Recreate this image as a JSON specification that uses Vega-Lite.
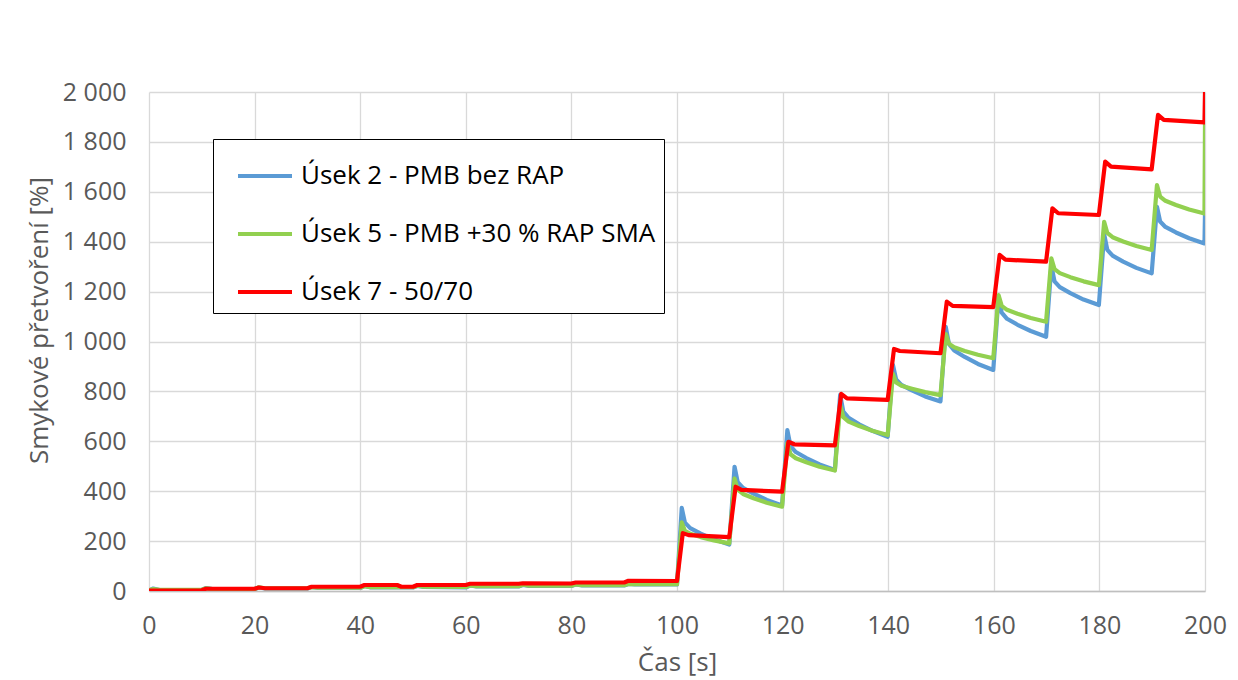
{
  "$schema": "https://vega.github.io/schema/vega-lite/v6.json",
  "autosize": {"type": "none"},
  "padding": {"left": 149, "top": 92, "right": 33, "bottom": 89},
  "width": 1056,
  "height": 499,
  "background": "white",
  "config": {
    "font": "Open Sans",
    "view": {"stroke": null},
    "axis": {
      "labelFont": "Open Sans",
      "titleFont": "Open Sans",
      "labelColor": "#595959",
      "titleColor": "#595959",
      "labelFontSize": 25,
      "titleFontSize": 26,
      "titleFontWeight": "normal",
      "gridColor": "#D9D9D9",
      "gridWidth": 1.3,
      "ticks": false,
      "labelFlush": false
    }
  },
  "data": {
    "values": [
      {"s": "Úsek 2 - PMB bez RAP", "t": 0, "v": 2},
      {"s": "Úsek 2 - PMB bez RAP", "t": 0.8, "v": 10},
      {"s": "Úsek 2 - PMB bez RAP", "t": 2, "v": 4},
      {"s": "Úsek 2 - PMB bez RAP", "t": 10, "v": 4},
      {"s": "Úsek 2 - PMB bez RAP", "t": 10.8, "v": 12},
      {"s": "Úsek 2 - PMB bez RAP", "t": 12, "v": 8},
      {"s": "Úsek 2 - PMB bez RAP", "t": 20, "v": 8},
      {"s": "Úsek 2 - PMB bez RAP", "t": 20.8, "v": 14},
      {"s": "Úsek 2 - PMB bez RAP", "t": 22, "v": 10},
      {"s": "Úsek 2 - PMB bez RAP", "t": 30, "v": 10},
      {"s": "Úsek 2 - PMB bez RAP", "t": 30.8, "v": 16},
      {"s": "Úsek 2 - PMB bez RAP", "t": 32, "v": 12},
      {"s": "Úsek 2 - PMB bez RAP", "t": 40, "v": 12},
      {"s": "Úsek 2 - PMB bez RAP", "t": 40.8, "v": 20},
      {"s": "Úsek 2 - PMB bez RAP", "t": 42, "v": 14},
      {"s": "Úsek 2 - PMB bez RAP", "t": 50, "v": 14},
      {"s": "Úsek 2 - PMB bez RAP", "t": 50.8, "v": 20},
      {"s": "Úsek 2 - PMB bez RAP", "t": 52, "v": 16},
      {"s": "Úsek 2 - PMB bez RAP", "t": 60, "v": 14},
      {"s": "Úsek 2 - PMB bez RAP", "t": 60.8, "v": 22},
      {"s": "Úsek 2 - PMB bez RAP", "t": 62, "v": 18},
      {"s": "Úsek 2 - PMB bez RAP", "t": 70, "v": 18},
      {"s": "Úsek 2 - PMB bez RAP", "t": 70.8, "v": 24},
      {"s": "Úsek 2 - PMB bez RAP", "t": 72, "v": 20},
      {"s": "Úsek 2 - PMB bez RAP", "t": 80, "v": 20},
      {"s": "Úsek 2 - PMB bez RAP", "t": 80.8, "v": 26},
      {"s": "Úsek 2 - PMB bez RAP", "t": 82, "v": 22},
      {"s": "Úsek 2 - PMB bez RAP", "t": 90, "v": 22},
      {"s": "Úsek 2 - PMB bez RAP", "t": 90.8, "v": 28},
      {"s": "Úsek 2 - PMB bez RAP", "t": 92, "v": 26},
      {"s": "Úsek 2 - PMB bez RAP", "t": 100, "v": 26},
      {"s": "Úsek 2 - PMB bez RAP", "t": 100.9, "v": 333},
      {"s": "Úsek 2 - PMB bez RAP", "t": 101.5, "v": 274},
      {"s": "Úsek 2 - PMB bez RAP", "t": 102.5, "v": 252},
      {"s": "Úsek 2 - PMB bez RAP", "t": 104.5, "v": 230},
      {"s": "Úsek 2 - PMB bez RAP", "t": 107, "v": 207},
      {"s": "Úsek 2 - PMB bez RAP", "t": 109.9, "v": 186},
      {"s": "Úsek 2 - PMB bez RAP", "t": 110.9, "v": 498},
      {"s": "Úsek 2 - PMB bez RAP", "t": 111.5, "v": 436},
      {"s": "Úsek 2 - PMB bez RAP", "t": 112.5, "v": 413},
      {"s": "Úsek 2 - PMB bez RAP", "t": 114.5, "v": 390},
      {"s": "Úsek 2 - PMB bez RAP", "t": 117, "v": 365},
      {"s": "Úsek 2 - PMB bez RAP", "t": 119.9, "v": 343},
      {"s": "Úsek 2 - PMB bez RAP", "t": 120.9, "v": 645},
      {"s": "Úsek 2 - PMB bez RAP", "t": 121.5, "v": 581},
      {"s": "Úsek 2 - PMB bez RAP", "t": 122.5, "v": 557},
      {"s": "Úsek 2 - PMB bez RAP", "t": 124.5, "v": 533},
      {"s": "Úsek 2 - PMB bez RAP", "t": 127, "v": 507},
      {"s": "Úsek 2 - PMB bez RAP", "t": 129.9, "v": 485},
      {"s": "Úsek 2 - PMB bez RAP", "t": 130.9, "v": 786},
      {"s": "Úsek 2 - PMB bez RAP", "t": 131.5, "v": 719},
      {"s": "Úsek 2 - PMB bez RAP", "t": 132.5, "v": 694},
      {"s": "Úsek 2 - PMB bez RAP", "t": 134.5, "v": 668},
      {"s": "Úsek 2 - PMB bez RAP", "t": 137, "v": 642},
      {"s": "Úsek 2 - PMB bez RAP", "t": 139.9, "v": 618},
      {"s": "Úsek 2 - PMB bez RAP", "t": 140.9, "v": 906},
      {"s": "Úsek 2 - PMB bez RAP", "t": 141.5, "v": 848},
      {"s": "Úsek 2 - PMB bez RAP", "t": 142.5, "v": 826},
      {"s": "Úsek 2 - PMB bez RAP", "t": 144.5, "v": 804},
      {"s": "Úsek 2 - PMB bez RAP", "t": 147, "v": 780},
      {"s": "Úsek 2 - PMB bez RAP", "t": 149.9, "v": 760},
      {"s": "Úsek 2 - PMB bez RAP", "t": 150.9, "v": 1059},
      {"s": "Úsek 2 - PMB bez RAP", "t": 151.5, "v": 990},
      {"s": "Úsek 2 - PMB bez RAP", "t": 152.5, "v": 964},
      {"s": "Úsek 2 - PMB bez RAP", "t": 154.5, "v": 938},
      {"s": "Úsek 2 - PMB bez RAP", "t": 157, "v": 910},
      {"s": "Úsek 2 - PMB bez RAP", "t": 159.9, "v": 886},
      {"s": "Úsek 2 - PMB bez RAP", "t": 160.9, "v": 1180},
      {"s": "Úsek 2 - PMB bez RAP", "t": 161.5, "v": 1116},
      {"s": "Úsek 2 - PMB bez RAP", "t": 162.5, "v": 1091},
      {"s": "Úsek 2 - PMB bez RAP", "t": 164.5, "v": 1067},
      {"s": "Úsek 2 - PMB bez RAP", "t": 167, "v": 1042},
      {"s": "Úsek 2 - PMB bez RAP", "t": 169.9, "v": 1019},
      {"s": "Úsek 2 - PMB bez RAP", "t": 170.9, "v": 1305},
      {"s": "Úsek 2 - PMB bez RAP", "t": 171.5, "v": 1241},
      {"s": "Úsek 2 - PMB bez RAP", "t": 172.5, "v": 1218},
      {"s": "Úsek 2 - PMB bez RAP", "t": 174.5, "v": 1194},
      {"s": "Úsek 2 - PMB bez RAP", "t": 177, "v": 1168},
      {"s": "Úsek 2 - PMB bez RAP", "t": 179.9, "v": 1146},
      {"s": "Úsek 2 - PMB bez RAP", "t": 180.9, "v": 1430},
      {"s": "Úsek 2 - PMB bez RAP", "t": 181.5, "v": 1367},
      {"s": "Úsek 2 - PMB bez RAP", "t": 182.5, "v": 1344},
      {"s": "Úsek 2 - PMB bez RAP", "t": 184.5, "v": 1320},
      {"s": "Úsek 2 - PMB bez RAP", "t": 187, "v": 1295},
      {"s": "Úsek 2 - PMB bez RAP", "t": 189.9, "v": 1273},
      {"s": "Úsek 2 - PMB bez RAP", "t": 190.9, "v": 1540},
      {"s": "Úsek 2 - PMB bez RAP", "t": 191.5, "v": 1481},
      {"s": "Úsek 2 - PMB bez RAP", "t": 192.5, "v": 1459},
      {"s": "Úsek 2 - PMB bez RAP", "t": 194.5, "v": 1437},
      {"s": "Úsek 2 - PMB bez RAP", "t": 197, "v": 1414},
      {"s": "Úsek 2 - PMB bez RAP", "t": 199.9, "v": 1393},
      {"s": "Úsek 2 - PMB bez RAP", "t": 200, "v": 1515},

      {"s": "Úsek 5 - PMB +30 % RAP SMA", "t": 0, "v": 3},
      {"s": "Úsek 5 - PMB +30 % RAP SMA", "t": 0.8, "v": 8},
      {"s": "Úsek 5 - PMB +30 % RAP SMA", "t": 2, "v": 5},
      {"s": "Úsek 5 - PMB +30 % RAP SMA", "t": 10, "v": 5},
      {"s": "Úsek 5 - PMB +30 % RAP SMA", "t": 10.8, "v": 11},
      {"s": "Úsek 5 - PMB +30 % RAP SMA", "t": 12, "v": 8},
      {"s": "Úsek 5 - PMB +30 % RAP SMA", "t": 20, "v": 8},
      {"s": "Úsek 5 - PMB +30 % RAP SMA", "t": 20.8, "v": 15},
      {"s": "Úsek 5 - PMB +30 % RAP SMA", "t": 22, "v": 11},
      {"s": "Úsek 5 - PMB +30 % RAP SMA", "t": 30, "v": 11},
      {"s": "Úsek 5 - PMB +30 % RAP SMA", "t": 30.8, "v": 15},
      {"s": "Úsek 5 - PMB +30 % RAP SMA", "t": 32, "v": 13},
      {"s": "Úsek 5 - PMB +30 % RAP SMA", "t": 40, "v": 13},
      {"s": "Úsek 5 - PMB +30 % RAP SMA", "t": 40.8, "v": 19},
      {"s": "Úsek 5 - PMB +30 % RAP SMA", "t": 42, "v": 15},
      {"s": "Úsek 5 - PMB +30 % RAP SMA", "t": 50, "v": 15},
      {"s": "Úsek 5 - PMB +30 % RAP SMA", "t": 50.8, "v": 21},
      {"s": "Úsek 5 - PMB +30 % RAP SMA", "t": 52, "v": 17},
      {"s": "Úsek 5 - PMB +30 % RAP SMA", "t": 60, "v": 16},
      {"s": "Úsek 5 - PMB +30 % RAP SMA", "t": 60.8, "v": 22},
      {"s": "Úsek 5 - PMB +30 % RAP SMA", "t": 62, "v": 19},
      {"s": "Úsek 5 - PMB +30 % RAP SMA", "t": 70, "v": 19},
      {"s": "Úsek 5 - PMB +30 % RAP SMA", "t": 70.8, "v": 25},
      {"s": "Úsek 5 - PMB +30 % RAP SMA", "t": 72, "v": 21},
      {"s": "Úsek 5 - PMB +30 % RAP SMA", "t": 80, "v": 21},
      {"s": "Úsek 5 - PMB +30 % RAP SMA", "t": 80.8, "v": 26},
      {"s": "Úsek 5 - PMB +30 % RAP SMA", "t": 82, "v": 23},
      {"s": "Úsek 5 - PMB +30 % RAP SMA", "t": 90, "v": 23},
      {"s": "Úsek 5 - PMB +30 % RAP SMA", "t": 90.8, "v": 28},
      {"s": "Úsek 5 - PMB +30 % RAP SMA", "t": 92, "v": 27},
      {"s": "Úsek 5 - PMB +30 % RAP SMA", "t": 100, "v": 27},
      {"s": "Úsek 5 - PMB +30 % RAP SMA", "t": 100.9, "v": 275},
      {"s": "Úsek 5 - PMB +30 % RAP SMA", "t": 101.5, "v": 241},
      {"s": "Úsek 5 - PMB +30 % RAP SMA", "t": 102.5, "v": 229},
      {"s": "Úsek 5 - PMB +30 % RAP SMA", "t": 104.5, "v": 216},
      {"s": "Úsek 5 - PMB +30 % RAP SMA", "t": 107, "v": 203},
      {"s": "Úsek 5 - PMB +30 % RAP SMA", "t": 109.9, "v": 191},
      {"s": "Úsek 5 - PMB +30 % RAP SMA", "t": 110.9, "v": 451},
      {"s": "Úsek 5 - PMB +30 % RAP SMA", "t": 111.5, "v": 406},
      {"s": "Úsek 5 - PMB +30 % RAP SMA", "t": 112.5, "v": 389},
      {"s": "Úsek 5 - PMB +30 % RAP SMA", "t": 114.5, "v": 372},
      {"s": "Úsek 5 - PMB +30 % RAP SMA", "t": 117, "v": 354},
      {"s": "Úsek 5 - PMB +30 % RAP SMA", "t": 119.9, "v": 338},
      {"s": "Úsek 5 - PMB +30 % RAP SMA", "t": 120.9, "v": 592},
      {"s": "Úsek 5 - PMB +30 % RAP SMA", "t": 121.5, "v": 548},
      {"s": "Úsek 5 - PMB +30 % RAP SMA", "t": 122.5, "v": 532},
      {"s": "Úsek 5 - PMB +30 % RAP SMA", "t": 124.5, "v": 516},
      {"s": "Úsek 5 - PMB +30 % RAP SMA", "t": 127, "v": 498},
      {"s": "Úsek 5 - PMB +30 % RAP SMA", "t": 129.9, "v": 483},
      {"s": "Úsek 5 - PMB +30 % RAP SMA", "t": 130.9, "v": 745},
      {"s": "Úsek 5 - PMB +30 % RAP SMA", "t": 131.5, "v": 697},
      {"s": "Úsek 5 - PMB +30 % RAP SMA", "t": 132.5, "v": 679},
      {"s": "Úsek 5 - PMB +30 % RAP SMA", "t": 134.5, "v": 661},
      {"s": "Úsek 5 - PMB +30 % RAP SMA", "t": 137, "v": 642},
      {"s": "Úsek 5 - PMB +30 % RAP SMA", "t": 139.9, "v": 625},
      {"s": "Úsek 5 - PMB +30 % RAP SMA", "t": 140.9, "v": 870},
      {"s": "Úsek 5 - PMB +30 % RAP SMA", "t": 141.5, "v": 836},
      {"s": "Úsek 5 - PMB +30 % RAP SMA", "t": 142.5, "v": 823},
      {"s": "Úsek 5 - PMB +30 % RAP SMA", "t": 144.5, "v": 811},
      {"s": "Úsek 5 - PMB +30 % RAP SMA", "t": 147, "v": 797},
      {"s": "Úsek 5 - PMB +30 % RAP SMA", "t": 149.9, "v": 785},
      {"s": "Úsek 5 - PMB +30 % RAP SMA", "t": 150.9, "v": 1030},
      {"s": "Úsek 5 - PMB +30 % RAP SMA", "t": 151.5, "v": 991},
      {"s": "Úsek 5 - PMB +30 % RAP SMA", "t": 152.5, "v": 977},
      {"s": "Úsek 5 - PMB +30 % RAP SMA", "t": 154.5, "v": 962},
      {"s": "Úsek 5 - PMB +30 % RAP SMA", "t": 157, "v": 947},
      {"s": "Úsek 5 - PMB +30 % RAP SMA", "t": 159.9, "v": 933},
      {"s": "Úsek 5 - PMB +30 % RAP SMA", "t": 160.9, "v": 1186},
      {"s": "Úsek 5 - PMB +30 % RAP SMA", "t": 161.5, "v": 1143},
      {"s": "Úsek 5 - PMB +30 % RAP SMA", "t": 162.5, "v": 1127},
      {"s": "Úsek 5 - PMB +30 % RAP SMA", "t": 164.5, "v": 1111},
      {"s": "Úsek 5 - PMB +30 % RAP SMA", "t": 167, "v": 1094},
      {"s": "Úsek 5 - PMB +30 % RAP SMA", "t": 169.9, "v": 1079},
      {"s": "Úsek 5 - PMB +30 % RAP SMA", "t": 170.9, "v": 1333},
      {"s": "Úsek 5 - PMB +30 % RAP SMA", "t": 171.5, "v": 1290},
      {"s": "Úsek 5 - PMB +30 % RAP SMA", "t": 172.5, "v": 1274},
      {"s": "Úsek 5 - PMB +30 % RAP SMA", "t": 174.5, "v": 1258},
      {"s": "Úsek 5 - PMB +30 % RAP SMA", "t": 177, "v": 1241},
      {"s": "Úsek 5 - PMB +30 % RAP SMA", "t": 179.9, "v": 1226},
      {"s": "Úsek 5 - PMB +30 % RAP SMA", "t": 180.9, "v": 1480},
      {"s": "Úsek 5 - PMB +30 % RAP SMA", "t": 181.5, "v": 1435},
      {"s": "Úsek 5 - PMB +30 % RAP SMA", "t": 182.5, "v": 1418},
      {"s": "Úsek 5 - PMB +30 % RAP SMA", "t": 184.5, "v": 1401},
      {"s": "Úsek 5 - PMB +30 % RAP SMA", "t": 187, "v": 1383},
      {"s": "Úsek 5 - PMB +30 % RAP SMA", "t": 189.9, "v": 1367},
      {"s": "Úsek 5 - PMB +30 % RAP SMA", "t": 190.9, "v": 1627},
      {"s": "Úsek 5 - PMB +30 % RAP SMA", "t": 191.5, "v": 1581},
      {"s": "Úsek 5 - PMB +30 % RAP SMA", "t": 192.5, "v": 1564},
      {"s": "Úsek 5 - PMB +30 % RAP SMA", "t": 194.5, "v": 1547},
      {"s": "Úsek 5 - PMB +30 % RAP SMA", "t": 197, "v": 1529},
      {"s": "Úsek 5 - PMB +30 % RAP SMA", "t": 199.9, "v": 1513},
      {"s": "Úsek 5 - PMB +30 % RAP SMA", "t": 200, "v": 1874},

      {"s": "Úsek 7 - 50/70", "t": 0, "v": 2},
      {"s": "Úsek 7 - 50/70", "t": 10, "v": 3},
      {"s": "Úsek 7 - 50/70", "t": 10.8, "v": 9},
      {"s": "Úsek 7 - 50/70", "t": 20, "v": 9},
      {"s": "Úsek 7 - 50/70", "t": 20.8, "v": 14},
      {"s": "Úsek 7 - 50/70", "t": 22, "v": 11},
      {"s": "Úsek 7 - 50/70", "t": 30, "v": 11},
      {"s": "Úsek 7 - 50/70", "t": 30.8, "v": 17},
      {"s": "Úsek 7 - 50/70", "t": 40, "v": 17},
      {"s": "Úsek 7 - 50/70", "t": 40.8, "v": 24},
      {"s": "Úsek 7 - 50/70", "t": 47, "v": 24},
      {"s": "Úsek 7 - 50/70", "t": 47.8, "v": 17},
      {"s": "Úsek 7 - 50/70", "t": 50, "v": 17},
      {"s": "Úsek 7 - 50/70", "t": 50.8, "v": 24},
      {"s": "Úsek 7 - 50/70", "t": 60, "v": 24},
      {"s": "Úsek 7 - 50/70", "t": 60.8, "v": 29},
      {"s": "Úsek 7 - 50/70", "t": 70, "v": 29},
      {"s": "Úsek 7 - 50/70", "t": 70.8, "v": 31},
      {"s": "Úsek 7 - 50/70", "t": 80, "v": 30},
      {"s": "Úsek 7 - 50/70", "t": 80.8, "v": 34},
      {"s": "Úsek 7 - 50/70", "t": 90, "v": 34},
      {"s": "Úsek 7 - 50/70", "t": 90.8, "v": 41},
      {"s": "Úsek 7 - 50/70", "t": 100, "v": 40},
      {"s": "Úsek 7 - 50/70", "t": 101.1, "v": 232},
      {"s": "Úsek 7 - 50/70", "t": 102.2, "v": 224},
      {"s": "Úsek 7 - 50/70", "t": 109.9, "v": 216},
      {"s": "Úsek 7 - 50/70", "t": 111.1, "v": 418},
      {"s": "Úsek 7 - 50/70", "t": 112.2, "v": 405},
      {"s": "Úsek 7 - 50/70", "t": 119.9, "v": 398},
      {"s": "Úsek 7 - 50/70", "t": 121.1, "v": 598},
      {"s": "Úsek 7 - 50/70", "t": 122.2, "v": 588},
      {"s": "Úsek 7 - 50/70", "t": 129.9, "v": 584},
      {"s": "Úsek 7 - 50/70", "t": 131.1, "v": 790},
      {"s": "Úsek 7 - 50/70", "t": 132.2, "v": 772},
      {"s": "Úsek 7 - 50/70", "t": 139.9, "v": 766},
      {"s": "Úsek 7 - 50/70", "t": 141.1, "v": 970},
      {"s": "Úsek 7 - 50/70", "t": 142.2, "v": 962},
      {"s": "Úsek 7 - 50/70", "t": 149.9, "v": 953},
      {"s": "Úsek 7 - 50/70", "t": 151.1, "v": 1160},
      {"s": "Úsek 7 - 50/70", "t": 152.2, "v": 1143},
      {"s": "Úsek 7 - 50/70", "t": 159.9, "v": 1138},
      {"s": "Úsek 7 - 50/70", "t": 161.1, "v": 1347},
      {"s": "Úsek 7 - 50/70", "t": 162.2, "v": 1328},
      {"s": "Úsek 7 - 50/70", "t": 169.9, "v": 1320},
      {"s": "Úsek 7 - 50/70", "t": 171.1, "v": 1534},
      {"s": "Úsek 7 - 50/70", "t": 172.2, "v": 1514},
      {"s": "Úsek 7 - 50/70", "t": 179.9, "v": 1507},
      {"s": "Úsek 7 - 50/70", "t": 181.1, "v": 1721},
      {"s": "Úsek 7 - 50/70", "t": 182.2, "v": 1701},
      {"s": "Úsek 7 - 50/70", "t": 189.9, "v": 1690},
      {"s": "Úsek 7 - 50/70", "t": 191.1, "v": 1908},
      {"s": "Úsek 7 - 50/70", "t": 192.2, "v": 1888},
      {"s": "Úsek 7 - 50/70", "t": 199.9, "v": 1878},
      {"s": "Úsek 7 - 50/70", "t": 200, "v": 2000}
    ]
  },
  "mark": {"type": "line", "strokeWidth": 4.2, "strokeJoin": "round", "clip": true},
  "encoding": {
    "x": {
      "field": "t",
      "type": "quantitative",
      "scale": {"domain": [0, 200], "nice": false},
      "axis": {
        "title": "Čas [s]",
        "values": [0, 20, 40, 60, 80, 100, 120, 140, 160, 180, 200],
        "labelPadding": 22,
        "titlePadding": 11,
        "domainColor": "#BFBFBF",
        "domainWidth": 1.5
      }
    },
    "y": {
      "field": "v",
      "type": "quantitative",
      "scale": {"domain": [0, 2000], "nice": false},
      "axis": {
        "title": "Smykové přetvoření [%]",
        "values": [0, 200, 400, 600, 800, 1000, 1200, 1400, 1600, 1800, 2000],
        "labelExpr": "replace(format(datum.value, ','), ',', ' ')",
        "labelPadding": 23,
        "titlePadding": 10,
        "titleY": 228,
        "domain": false
      }
    },
    "color": {
      "field": "s",
      "type": "nominal",
      "scale": {
        "domain": ["Úsek 2 - PMB bez RAP", "Úsek 5 - PMB +30 % RAP SMA", "Úsek 7 - 50/70"],
        "range": ["#5B9BD5", "#92D050", "#FF0000"]
      },
      "legend": {
        "title": null,
        "orient": "none",
        "legendX": 64,
        "legendY": 47,
        "strokeColor": "#000000",
        "fillColor": "#FFFFFF",
        "padding": 8,
        "symbolType": "stroke",
        "symbolSize": 2916,
        "symbolStrokeWidth": 4,
        "symbolOffset": 15,
        "labelOffset": 7,
        "labelFont": "Open Sans",
        "labelFontSize": 26,
        "labelColor": "#000000",
        "labelLimit": 600,
        "rowPadding": 16
      }
    }
  }
}
